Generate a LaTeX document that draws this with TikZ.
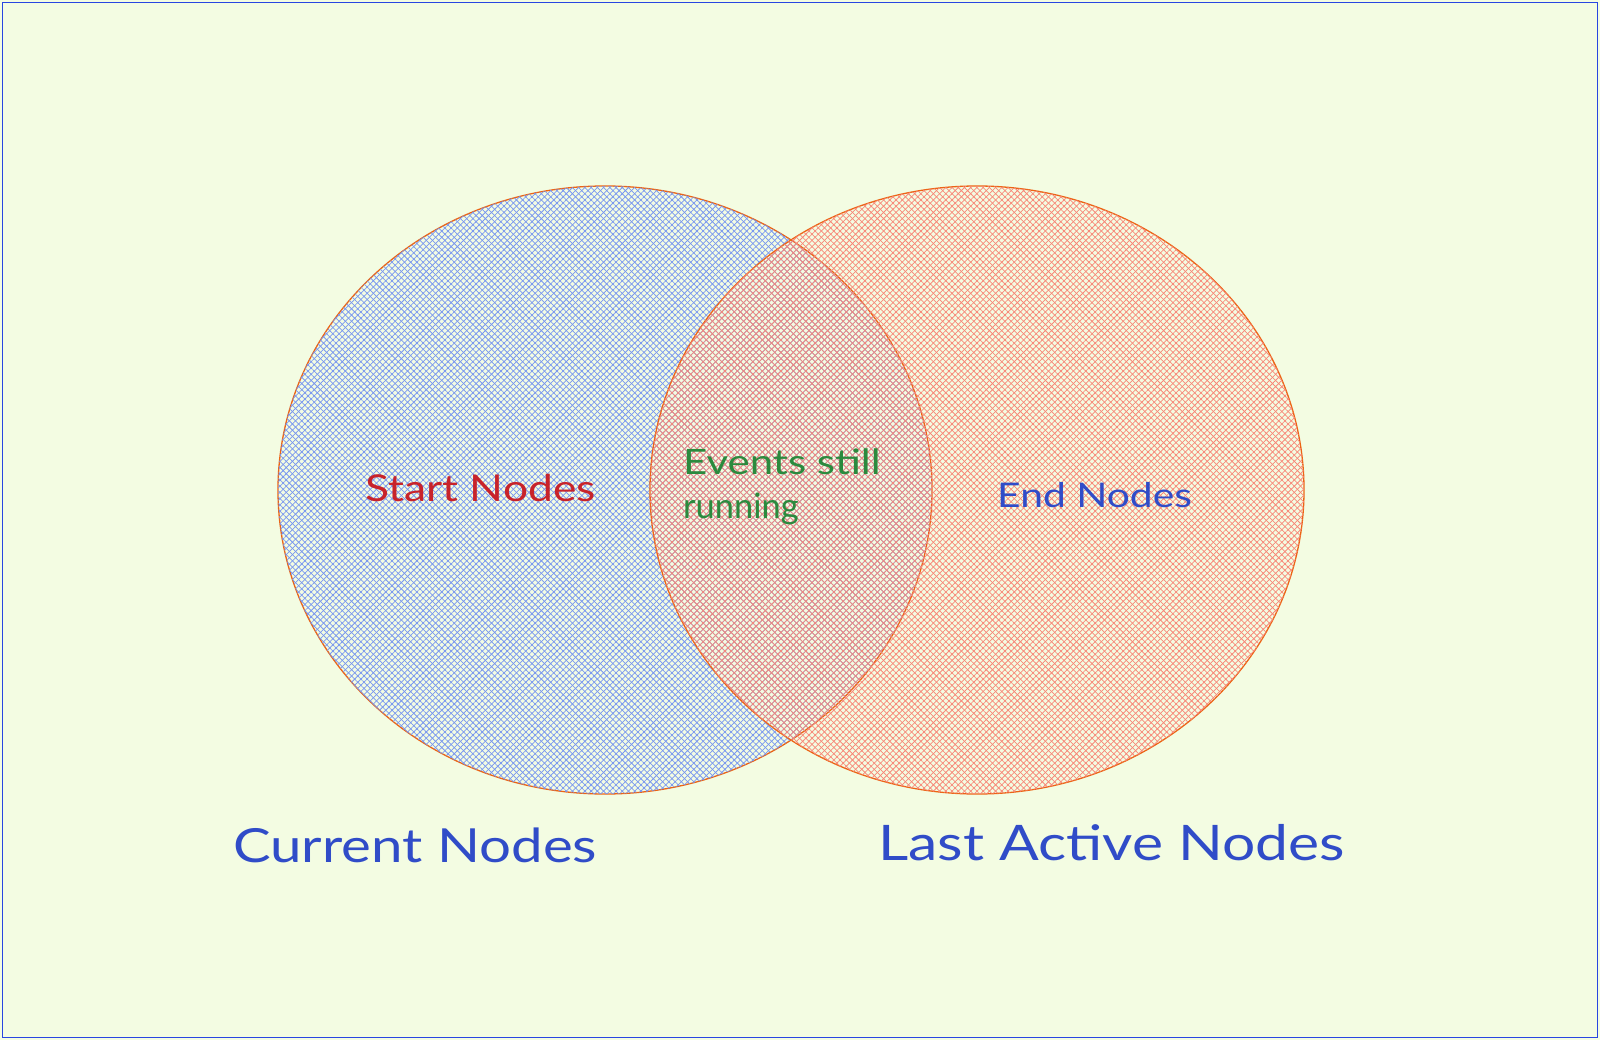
\documentclass[tikz,border=0pt]{standalone}
\usepackage{fontspec}
\setmainfont{Lato}[FakeStretch=1.2]
\usetikzlibrary{shapes.geometric,patterns.meta}
\definecolor{bgc}{RGB}{243,252,226}
\definecolor{frame}{RGB}{40,70,225}
\definecolor{ring}{RGB}{236,100,20}
\definecolor{hblue}{RGB}{120,150,240}
\definecolor{hred}{RGB}{248,135,120}
\definecolor{tblue}{RGB}{48,76,200}
\definecolor{tred}{RGB}{200,35,42}
\definecolor{tgreen}{RGB}{43,138,62}
\tikzset{
  setcircle/.style={ellipse, draw=ring, line width=1.3pt, minimum width=654pt, minimum height=608pt, inner sep=0pt},
  hatch/.style={postaction={pattern={Lines[angle=45,distance=4.4pt,line width=0.75pt]}, pattern color=#1},
                postaction={pattern={Lines[angle=-45,distance=4.4pt,line width=0.75pt]}, pattern color=#1}},
  lbl/.style={anchor=base west, inner sep=0pt, font=\fontsize{#1}{#1}\selectfont},
}
\begin{document}
\begin{tikzpicture}[x=1pt,y=-1pt]
\fill[bgc] (0,0) rectangle (1600,1040);
\useasboundingbox (0,0) rectangle (1600,1040);
\draw[frame, line width=1.4pt] (2.5,2.5) rectangle (1597.5,1037.5);
\node[setcircle, hatch=hblue] (cur) at (605,490) {};
\node[setcircle, hatch=hred] (last) at (977,490) {};
\node[lbl=37pt, text=tred] (start) at (365,501) {Start Nodes};
\node[lbl=35pt, text=tgreen] (ev1) at (683,474) {Events still};
\node[lbl=35pt, text=tgreen] (ev2) at (683,518) {\scalebox{0.82}[1]{running}};
\node[lbl=34pt, text=tblue] (endn) at (997,507) {End Nodes};
\node[lbl=47pt, text=tblue] (curlbl) at (233,862) {Current Nodes};
\node[lbl=49pt, text=tblue] (lastlbl) at (878,860) {Last Active Nodes};
\end{tikzpicture}
\end{document}
